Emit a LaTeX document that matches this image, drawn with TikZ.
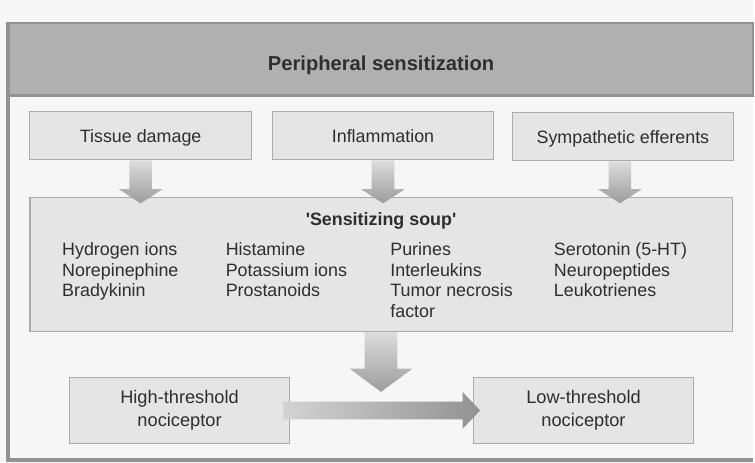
\documentclass[tikz,border=0pt]{standalone}
\usepackage{fontspec}
\setmainfont{Liberation Sans}
\usepackage{xcolor}
\usetikzlibrary{shapes.arrows,positioning,calc}

\definecolor{paper}{HTML}{F6F6F6}
\definecolor{bandgray}{HTML}{B0B0B0}
\definecolor{frameedge}{HTML}{929292}
\definecolor{boxfill}{HTML}{E5E5E5}
\definecolor{boxedge}{HTML}{ABABAB}
\definecolor{ink}{HTML}{2E2E2E}
\definecolor{arrowlight}{HTML}{DCDCDC}
\definecolor{arrowdark}{HTML}{9C9C9C}

\begin{document}
\begin{tikzpicture}[
  x=0.02cm, y=-0.02cm,
  band/.style={fill=bandgray, draw=frameedge, line width=1.6pt, minimum width=14.92cm,
               minimum height=1.46cm, text height=15pt, text depth=2.4pt,
               font=\bfseries\fontsize{11.5}{14}\selectfont, text=ink},
  box/.style={draw=boxedge, fill=boxfill, line width=0.6pt, minimum width=4.44cm,
              minimum height=0.96cm, align=center, inner sep=0pt,
              font=\fontsize{10.2}{12}\selectfont, text=ink},
  causebox/.style={box, text height=10pt, text depth=2.2pt},
  soupbox/.style={box, minimum width=14.08cm, minimum height=2.68cm},
  nocibox/.style={box, minimum width=4.42cm, minimum height=1.34cm, font=\fontsize{10.4}{13}\selectfont},
  list/.style={align=left, inner sep=0pt, anchor=north west, text=ink,
               font=\fontsize{10.2}{11.7}\selectfont},
  blockdown/.style={single arrow, shape border rotate=270, draw=none,
                    top color=arrowlight, bottom color=arrowdark, single arrow head indent=0pt,
                    anchor=tail},
  blockright/.style={single arrow, draw=none,
                     left color=arrowlight!90!gray, right color=arrowdark!110, single arrow head indent=0pt,
                     anchor=tail}
]
  % page and frame
  \fill[paper] (0,0) rectangle (755,464);
  \node[band] (title) at (382,59.5) {Peripheral sensitization};
  \draw[frameedge, line width=2.2pt] (title.north west) -- (title.north west |- 0,461) -- (755,461);

  % causes
  \node[causebox] (tissue) at (141,136) {Tissue damage};
  \node[causebox] (inflam) at (384,136) {Inflammation};
  \node[causebox] (symp) at (624.5,137) {Sympathetic efferents};

  % sensitizing soup
  \node[soupbox] (soup) at (382,265) {};
  \node[font=\bfseries\fontsize{10.2}{12}\selectfont, text=ink] (souptitle) at (382,221)
    {\textquotesingle Sensitizing soup\textquotesingle};
  \node[list] (col1) at (62,243) {Hydrogen ions\\Norepinephine\\Bradykinin};
  \node[list] (col2) at (226,243) {Histamine\\Potassium ions\\Prostanoids};
  \node[list] (col3) at (391,243) {Purines\\Interleukins\\Tumor necrosis\\factor};
  \node[list] (col4) at (555,243) {Serotonin (5-HT)\\Neuropeptides\\Leukotrienes};

  % nociceptors
  \node[nocibox] (high) at (180,411.5) {High-threshold\\nociceptor};
  \node[nocibox] (low) at (585,411.5) {Low-threshold\\nociceptor};

  % block arrows
  \node[blockdown, inner sep=0.22cm, minimum height=0.86cm,
        single arrow head extend=0.21cm, single arrow tip angle=114] (a1) at (tissue.south) {};
  \node[blockdown, inner sep=0.22cm, minimum height=0.86cm,
        single arrow head extend=0.21cm, single arrow tip angle=114] (a2) at (inflam.south) {};
  \node[blockdown, inner sep=0.22cm, minimum height=0.84cm,
        single arrow head extend=0.21cm, single arrow tip angle=114] (a3) at ([xshift=-0.06cm]symp.south) {};
  \node[blockright, inner sep=0.17cm, minimum height=3.94cm,
        single arrow head extend=0.19cm, single arrow tip angle=93] (a5) at ([xshift=-0.14cm]high.east) {};
  \node[blockdown, inner sep=0.32cm, minimum height=1.2cm,
        single arrow head extend=0.3cm, single arrow tip angle=107] (a4) at (soup.south) {};
\end{tikzpicture}
\end{document}
